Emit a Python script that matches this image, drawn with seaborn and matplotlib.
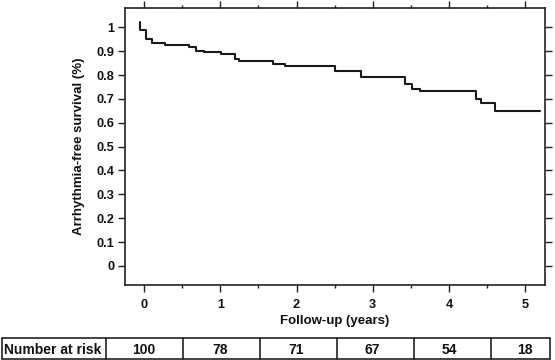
import matplotlib
matplotlib.use("Agg")
import matplotlib.pyplot as plt
import matplotlib.transforms as mtransforms
from matplotlib.lines import Line2D
from matplotlib.ticker import MultipleLocator
import numpy as np
import pandas as pd
import seaborn as sns

# ---- data ----
followup_years = [-0.05, 0.025, 0.11, 0.27, 0.59, 0.68, 0.78, 1.01, 1.19, 1.25,
                  1.695, 1.85, 2.51, 2.85, 3.425, 3.51, 3.62, 4.35, 4.42, 4.60, 5.20]
survival = [1.023, 0.99, 0.951, 0.936, 0.926, 0.919, 0.90, 0.895, 0.887, 0.869,
            0.86, 0.847, 0.837, 0.815, 0.79, 0.764, 0.742, 0.732, 0.70, 0.684, 0.651]
risk_years = [0, 1, 2, 3, 4, 5]
number_at_risk = [100, 78, 71, 67, 54, 18]
x_ticks = [0, 1, 2, 3, 4, 5]
y_ticks = [0, 0.1, 0.2, 0.3, 0.4, 0.5, 0.6, 0.7, 0.8, 0.9, 1]
y_tick_labels = ["0", "0.1", "0.2", "0.3", "0.4", "0.5", "0.6", "0.7", "0.8", "0.9", "1"]

sns.set_style("ticks")
plt.rcParams["font.family"] = ["Liberation Sans", "DejaVu Sans"]
plt.rcParams["font.weight"] = "bold"

W, H = 555, 360
fig = plt.figure(figsize=(W / 100, H / 100), dpi=100)
L, R, T, B = 125, 545, 7.5, 284.5
ax = fig.add_axes([L / W, 1 - B / H, (R - L) / W, (B - T) / H])

ink = "#1a1a1a"
df = pd.DataFrame({"t": followup_years, "s": survival})
sns.lineplot(data=df, x="t", y="s", ax=ax, drawstyle="steps-pre",
             color=ink, linewidth=1.5, estimator=None, sort=False)

ax.set_xlim(-0.25, 5.26)
ax.set_ylim(-0.078, 1.083)
ax.set_xticks(x_ticks)
ax.set_xticklabels([str(v) for v in x_ticks])
ax.xaxis.set_minor_locator(MultipleLocator(0.5))
ax.set_yticks(y_ticks)
ax.set_yticklabels(y_tick_labels)

for s in ax.spines.values():
    s.set_visible(True)
    s.set_linewidth(1.2)
    s.set_color("#222222")

ax.tick_params(axis="both", which="major", direction="out", length=5.3, width=1.0,
               color="#222222", labelsize=9.2, labelcolor="#111111")
ax.tick_params(axis="x", which="major", top=True, bottom=True, pad=5)
ax.tick_params(axis="x", which="minor", top=True, bottom=True, direction="out",
               length=2.5, width=1.0, color="#222222")
ax.tick_params(axis="y", which="major", left=True, right=True, labelright=False, pad=2.5)

ax.set_xlabel("Follow-up (years)", fontsize=9.5, fontweight="bold", color="#111111", labelpad=3)
ax.set_ylabel("Arrhythmia-free survival (%)", fontsize=9.5, fontweight="bold",
              color="#111111", labelpad=8)

# ---- number-at-risk table ----
top_y, bot_y, text_y = 338, 359, 350
col_edges = [1.5, 106, 183.3, 260, 336.7, 414, 490.7, 550]
lw = 1.2
for x in col_edges:
    fig.add_artist(Line2D([x / W, x / W], [1 - top_y / H, 1 - bot_y / H],
                          transform=fig.transFigure, color="#222222", linewidth=lw))
for y in (top_y, bot_y):
    fig.add_artist(Line2D([col_edges[0] / W, col_edges[-1] / W], [1 - y / H, 1 - y / H],
                          transform=fig.transFigure, color="#222222", linewidth=lw))

fig.text(4 / W, 1 - text_y / H, "Number at risk", ha="left", va="center",
         fontsize=10, fontweight="bold", color="#111111")
trans = mtransforms.blended_transform_factory(ax.transData, fig.transFigure)
for x, n in zip(risk_years, number_at_risk):
    ax.text(x, 1 - text_y / H, str(n), transform=trans, ha="center", va="center",
            fontsize=10, fontweight="bold", color="#111111", clip_on=False)

fig.savefig("out.png", dpi=100)
